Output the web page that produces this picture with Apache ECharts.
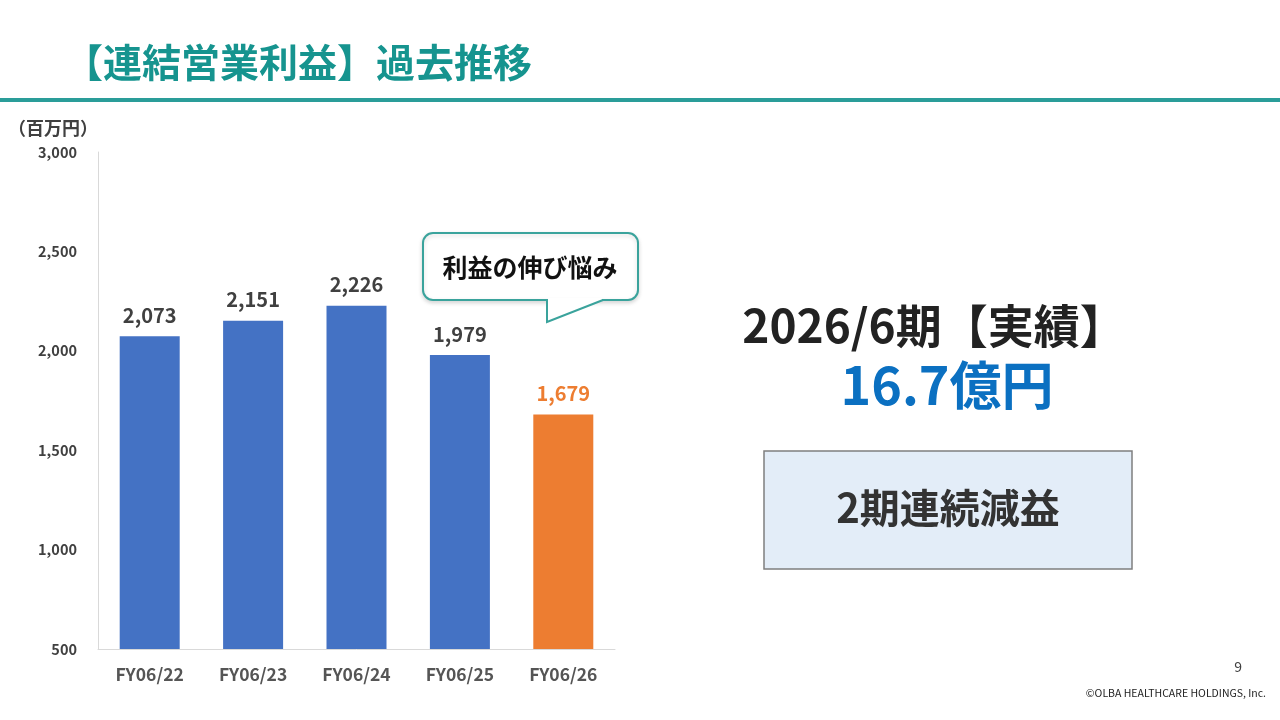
<!DOCTYPE html>
<html>
<head>
<meta charset="utf-8">
<script src="https://cdn.jsdelivr.net/npm/echarts@6/dist/echarts.min.js"></script>
<style>
  html, body { margin: 0; padding: 0; background: #fff; }
  #chart { width: 1280px; height: 720px; }
</style>
</head>
<body>
<div id="chart"></div>
<script>
// === DATA ===
const categories = ['FY06/22', 'FY06/23', 'FY06/24', 'FY06/25', 'FY06/26'];
const profitValues = [2073, 2151, 2226, 1979, 1679];
const barColors = ['#4472c4', '#4472c4', '#4472c4', '#4472c4', '#ed7d31'];
const labelColors = ['#404040', '#404040', '#404040', '#404040', '#ed7d31'];

const FONT = '"Noto Sans CJK JP", "Noto Sans", sans-serif';

const chart = echarts.init(document.getElementById('chart'));

const option = {
    backgroundColor: '#fff',
    animation: false,
    textStyle: { fontFamily: FONT },
    grid: { left: 98, right: 665, top: 152, bottom: 71, containLabel: false },
    xAxis: {
        type: 'category',
        data: categories,
        axisLine: { lineStyle: { color: '#d9d9d9', width: 1 } },
        axisTick: { show: false },
        axisLabel: {
            margin: 17, fontSize: 17.5, fontWeight: 'bold', color: '#555', fontFamily: FONT
        }
    },
    yAxis: {
        type: 'value',
        min: 500,
        max: 3000,
        interval: 500,
        axisLine: { show: true, lineStyle: { color: '#d9d9d9', width: 1 } },
        axisTick: { show: false },
        splitLine: { show: false },
        axisLabel: {
            margin: 21, fontSize: 14.5, fontWeight: 'bold', color: '#404040', fontFamily: FONT,
            formatter: v => v.toLocaleString('en-US')
        }
    },
    series: [{
        type: 'bar',
        barWidth: 60,
        data: profitValues.map((v, i) => ({
            value: v,
            itemStyle: { color: barColors[i] },
            label: { color: labelColors[i] }
        })),
        label: {
            show: true,
            position: 'top',
            distance: 11,
            fontSize: 20,
            fontWeight: 'bold',
            fontFamily: FONT,
            formatter: p => p.value.toLocaleString('en-US')
        }
    }],
    graphic: [
        // title
        {
            type: 'text', x: 64, y: 62,
            style: {
                text: '【連結営業利益】過去推移', fontSize: 39, fontWeight: 'bold',
                fill: '#16948f', fontFamily: FONT, verticalAlign: 'middle'
            }
        },
        {
            type: 'rect',
            shape: { x: 0, y: 98, width: 1280, height: 4 },
            style: { fill: '#2a9d99' }
        },
        // unit
        {
            type: 'text', x: 8, y: 128,
            style: { text: '（百万円）', fontSize: 18, fontWeight: 'bold', fill: '#404040', fontFamily: FONT, verticalAlign: 'middle' }
        },
        // callout box
        {
            type: 'rect',
            shape: { x: 423, y: 233, width: 215, height: 67, r: 10 },
            style: { fill: '#fff', stroke: '#3aa39c', lineWidth: 2, shadowBlur: 4, shadowColor: 'rgba(0,0,0,0.15)', shadowOffsetY: 2 }
        },
        {
            type: 'polygon',
            shape: { points: [[548, 298], [602, 298], [602, 301], [548, 321]] },
            style: { fill: '#fff' }
        },
        {
            type: 'polyline',
            shape: { points: [[547, 300], [547, 322], [603, 300]] },
            style: { stroke: '#3aa39c', lineWidth: 2, fill: null }
        },
        {
            type: 'text', x: 530, y: 267,
            style: {
                text: '利益の伸び悩み', fontSize: 25, fontWeight: 'bold', fill: '#111',
                fontFamily: FONT, align: 'center', verticalAlign: 'middle'
            }
        },
        // right side summary
        {
            type: 'text', x: 934, y: 326,
            style: {
                text: '2026/6期【実績】', fontSize: 46, fontWeight: 'bold', fill: '#222',
                fontFamily: FONT, align: 'center', verticalAlign: 'middle'
            }
        },
        {
            type: 'text', x: 947, y: 385,
            style: {
                text: '16.7億円', fontSize: 52, fontWeight: 'bold', fill: '#0b70c1',
                fontFamily: FONT, align: 'center', verticalAlign: 'middle'
            }
        },
        {
            type: 'rect',
            shape: { x: 764, y: 451, width: 368, height: 118 },
            style: { fill: '#e3edf8', stroke: '#7f7f7f', lineWidth: 1.5 }
        },
        {
            type: 'text', x: 948, y: 508,
            style: {
                text: '2期連続減益', fontSize: 40, fontWeight: 'bold', fill: '#333',
                fontFamily: FONT, align: 'center', verticalAlign: 'middle'
            }
        },
        // footer
        {
            type: 'text', x: 1242, y: 667,
            style: { text: '9', fontSize: 14, fill: '#404040', fontFamily: FONT, align: 'right', verticalAlign: 'middle' }
        },
        {
            type: 'text', x: 1266, y: 693,
            style: {
                text: '©OLBA HEALTHCARE HOLDINGS, Inc.', fontSize: 10.5, fill: '#222',
                fontFamily: FONT, align: 'right', verticalAlign: 'middle'
            }
        }
    ]
};

chart.setOption(option);
window.addEventListener('resize', () => chart.resize());
</script>
</body>
</html>
